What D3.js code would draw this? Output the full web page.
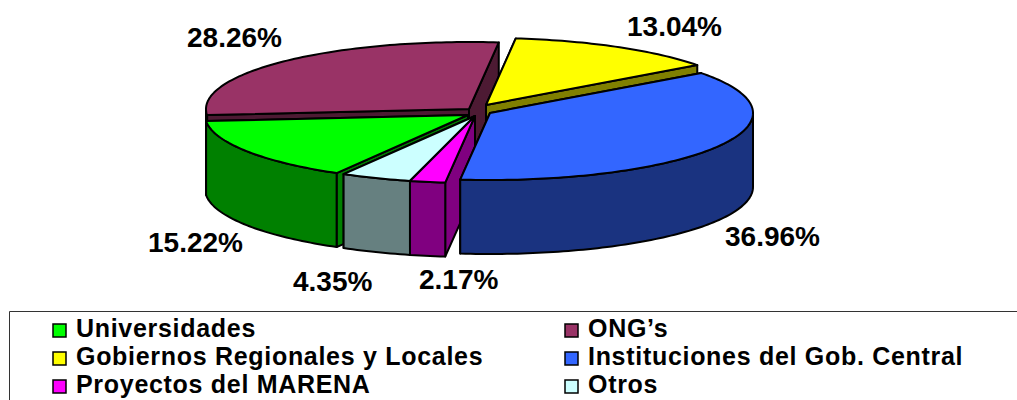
<!DOCTYPE html>
<html><head><meta charset="utf-8">
<script src="https://cdn.jsdelivr.net/npm/d3@7/dist/d3.min.js"></script>
<style>html,body{margin:0;padding:0;background:#fff}svg{display:block}
text{font-family:"Liberation Sans",Arial,sans-serif;font-weight:bold;fill:#000}</style>
</head><body><svg id="c" width="1017" height="400"></svg>
<script>
const categories=["Universidades","ONG’s","Gobiernos Regionales y Locales","Instituciones del Gob. Central","Proyectos del MARENA","Otros"];
const values=[15.22,28.26,13.04,36.96,2.17,4.35];
const valueLabels=["15.22%","28.26%","13.04%","36.96%","2.17%","4.35%"];
const topColors=["#00ff00","#993366","#ffff00","#3366ff","#ff00ff","#ccffff"];
const sideColors=["#008000","#4d1a33","#808000","#1a3380","#800080","#668080"];
// clockwise draw sequence of the pie, beginning at the yellow slice
const pieOrder=[2,3,4,5,0,1];
const explodeX=[468,469,486,490,475,475];
const explodeY=[115,109,105,113,116,116];
const paintOrder=[1,2,0,5,4,3];
const labelX=[148,187,627,725,419,293];
const labelY=[252,47,36,246,289,291];
const legendCol=[0,1,0,1,0,1];
const legendRow=[0,0,1,1,2,2];

const svg=d3.select("#c");
const rx=263, ry=67, depth=74;
const start=6.5*Math.PI/180;
const seq=pieOrder.map(i=>values[i]);
const arcs=d3.pie().sort(null).startAngle(start).endAngle(start+2*Math.PI)(seq);
const arcOf={}; pieOrder.forEach((s,k)=>arcOf[s]=arcs[k]);
const line=d3.line();
const px=(i,a)=>explodeX[i]+rx*Math.sin(a), py=(i,a)=>explodeY[i]-ry*Math.cos(a);
const samples=(a0,a1)=>{const n=Math.max(2,Math.ceil((a1-a0)/0.02));return d3.range(n+1).map(k=>a0+(a1-a0)*k/n)};
const g=svg.append("g");
paintOrder.forEach(i=>{
  const a=arcOf[i], ax=explodeX[i], ay=explodeY[i];
  const st={fill:sideColors[i],stroke:"#000","stroke-width":2,"stroke-linejoin":"round"};
  const draw=(pts,s)=>{const p=g.append("path").attr("d",line(pts)+"Z");Object.entries(s).forEach(([k,v])=>p.attr(k,v));};
  // the cut face further to the left is painted first, so the visible one stays on top
  [a.startAngle,a.endAngle].sort((u,v)=>px(i,u)-px(i,v)).forEach(t=>{
    draw([[ax,ay],[px(i,t),py(i,t)],[px(i,t),py(i,t)+depth],[ax,ay+depth]],st);
  });
  const lo=Math.max(a.startAngle,Math.PI/2), hi=Math.min(a.endAngle,1.5*Math.PI);
  if(hi>lo){
    const s=samples(lo,hi);
    draw(s.map(t=>[px(i,t),py(i,t)]).concat(s.slice().reverse().map(t=>[px(i,t),py(i,t)+depth])),st);
  }
  draw([[ax,ay]].concat(samples(a.startAngle,a.endAngle).map(t=>[px(i,t),py(i,t)])),{...st,fill:topColors[i]});
});
valueLabels.forEach((t,i)=>svg.append("text").attr("x",labelX[i]).attr("y",labelY[i]).attr("font-size",28).text(t));
svg.append("path").attr("d","M9.5,400V311.5H1017").attr("fill","none").attr("stroke","#333").attr("stroke-width",1);
const colX=d3.scaleOrdinal([0,1],[53,565]);
const rowY=d3.scaleLinear([0,2],[337,393]);
categories.forEach((c,i)=>{
  const x=colX(legendCol[i]), y=rowY(legendRow[i]);
  svg.append("rect").attr("x",x).attr("y",y-13).attr("width",13).attr("height",13).attr("fill",topColors[i]).attr("stroke","#000").attr("stroke-width",1.5);
  svg.append("text").attr("x",x+23).attr("y",y).attr("font-size",25).attr("letter-spacing",0.7).text(c);
});
</script></body></html>
